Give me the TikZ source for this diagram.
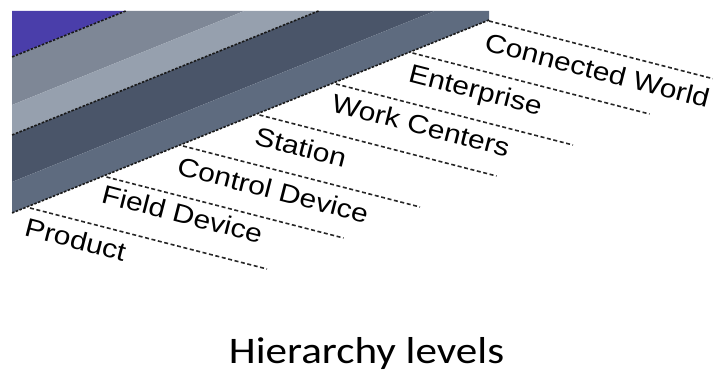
\documentclass[tikz,border=0pt]{standalone}
\usepackage{fontspec}
\newfontfamily\labelfont[FakeStretch=1.15]{Liberation Sans}
\newfontfamily\titlefont[FakeStretch=1.15]{Carlito}
\definecolor{cBlue}{RGB}{74,62,170}
\definecolor{cBandA}{RGB}{126,135,150}
\definecolor{cBandB}{RGB}{150,160,174}
\definecolor{cBandC}{RGB}{74,85,105}
\definecolor{cBandD}{RGB}{94,107,127}
\begin{document}
\begin{tikzpicture}[x=1pt,y=-1pt,
  edgedash/.style={draw=black!90, line width=1.6pt, dash pattern=on 2.5pt off 1.5pt},
  leader/.style={draw=black!85, line width=1.6pt, dash pattern=on 4pt off 2.6pt},
  lbl/.style={anchor=north west, inner sep=0pt, rotate=-14.4, font=\labelfont\fontsize{26}{30}\selectfont, text=black}]
\useasboundingbox (0,0) rectangle (713,374);
% slab outline
\coordinate (TL) at (12,11);
\coordinate (TR) at (489,11);
\coordinate (RB) at (489,20);
\coordinate (BL) at (12,213);
\coordinate (a0) at (125.7,11); \coordinate (a1) at (12,57);
\coordinate (b0) at (244.3,11); \coordinate (b1) at (12,105);
\coordinate (c0) at (318.5,11); \coordinate (c1) at (12,135);
\coordinate (d0) at (434.6,11); \coordinate (d1) at (12,182);
\fill[cBlue] (TL) -- (a0) -- (a1) -- cycle;
\fill[cBandA] (a0) -- (b0) -- (b1) -- (a1) -- cycle;
\fill[cBandB] (b0) -- (c0) -- (c1) -- (b1) -- cycle;
\fill[cBandC] (c0) -- (d0) -- (d1) -- (c1) -- cycle;
\fill[cBandD] (d0) -- (TR) -- (RB) -- (BL) -- (d1) -- cycle;
\draw[edgedash] (a0) -- (a1);
\draw[edgedash] (c0) -- (c1);
\draw[edgedash] (RB) -- (BL);
% leader lines
\coordinate (s1) at (30,208);    \coordinate (e1) at (267,269);
\coordinate (s2) at (106.5,177); \coordinate (e2) at (343.5,238);
\coordinate (s3) at (183,146);   \coordinate (e3) at (420,207);
\coordinate (s4) at (259.5,115); \coordinate (e4) at (496.5,176);
\coordinate (s5) at (336,84);    \coordinate (e5) at (573,145);
\coordinate (s6) at (412.5,53);  \coordinate (e6) at (649.5,114);
\coordinate (s7) at (489,21);    \coordinate (e7) at (713,78.7);
\foreach \i in {1,...,7} {\draw[leader] (s\i) -- (e\i);}
% labels
\node[lbl] (product) at (28,217) {Product};
\node[lbl] (field) at (105,184) {Field Device};
\node[lbl] (control) at (180.5,156) {Control Device};
\node[lbl] (station) at (258,126) {Station};
\node[lbl] (work) at (335,93) {Work Centers};
\node[lbl] (enterprise) at (412,63) {Enterprise};
\node[lbl] (world) at (488,32) {Connected World};
% title
\node[anchor=base, inner sep=0pt, font=\titlefont\fontsize{37.5}{40}\selectfont] (title) at (366.5,363) {Hierarchy levels};
\end{tikzpicture}
\end{document}
